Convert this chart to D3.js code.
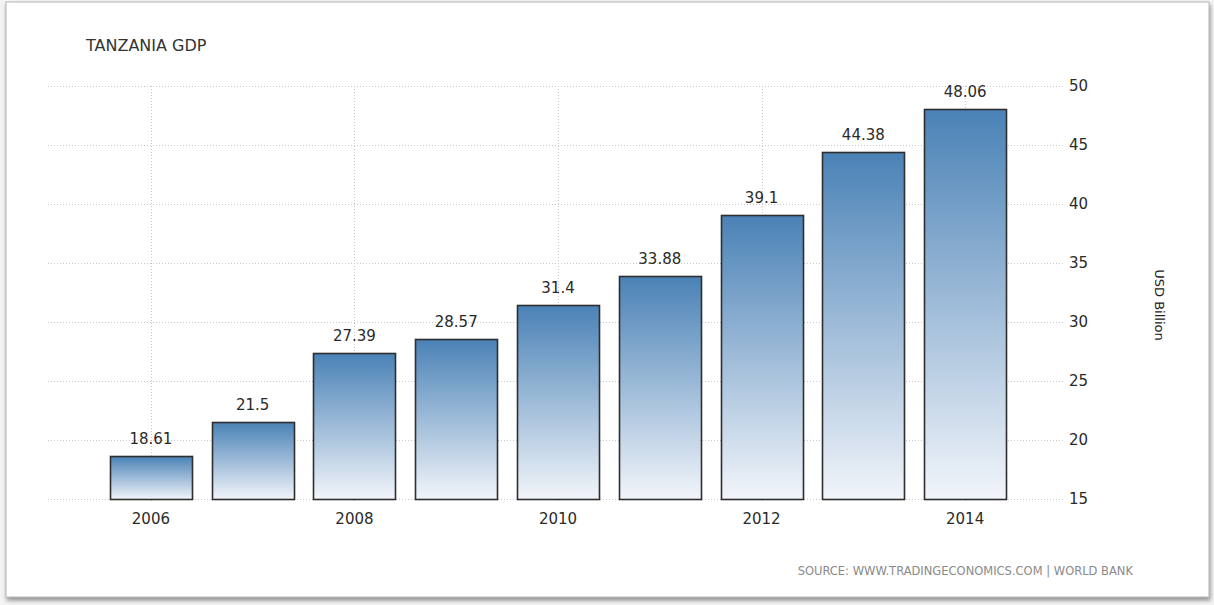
<!DOCTYPE html>
<html>
<head>
<meta charset="utf-8">
<script src="https://cdn.jsdelivr.net/npm/d3@7"></script>
<style>
  html, body { margin: 0; padding: 0; background: #fff; }
  svg { display: block; }
  text { font-family: "DejaVu Sans", Verdana, sans-serif; }
</style>
</head>
<body>
<svg id="chart" width="1214" height="605"></svg>
<script>
// Tanzania GDP, USD billion
const years = ["2006", "2007", "2008", "2009", "2010", "2011", "2012", "2013", "2014"];
const gdp = [18.61, 21.5, 27.39, 28.57, 31.4, 33.88, 39.1, 44.38, 48.06];
const gdpLabels = ["18.61", "21.5", "27.39", "28.57", "31.4", "33.88", "39.1", "44.38", "48.06"];
const yTicks = [15, 20, 25, 30, 35, 40, 45, 50];
const xTickYears = ["2006", "2008", "2010", "2012", "2014"];

const svg = d3.select("#chart");
const W = 1214, H = 605;

// card frame with soft shadow
const defs = svg.append("defs");
const shadow = defs.append("filter").attr("id", "cardShadow")
  .attr("x", "-2%").attr("y", "-2%").attr("width", "104%").attr("height", "106%");
shadow.append("feDropShadow").attr("dx", 1).attr("dy", 3)
  .attr("stdDeviation", 2).attr("flood-color", "#777").attr("flood-opacity", 0.8);

svg.append("rect").attr("width", W).attr("height", H).attr("fill", "#f4f4f4");
svg.append("rect")
  .attr("x", 6).attr("y", 2).attr("width", 1203).attr("height", 595)
  .attr("fill", "#fff").attr("stroke", "#b8b8b8").attr("stroke-width", 1)
  .attr("filter", "url(#cardShadow)");

// bar gradient
const grad = defs.append("linearGradient").attr("id", "barFill")
  .attr("x1", 0).attr("y1", 0).attr("x2", 0).attr("y2", 1);
grad.append("stop").attr("offset", "0%").attr("stop-color", "#4a82b6");
grad.append("stop").attr("offset", "100%").attr("stop-color", "#f2f5fa");

const plot = { left: 48, right: 1063, top: 86, bottom: 499 };

const pad = 0.194;
const x = d3.scaleBand().domain(years).range([100, 1016])
  .paddingInner(pad).paddingOuter(pad / 2);
const y = d3.scaleLinear().domain([15, 50]).range([plot.bottom, plot.top]);

// horizontal grid
svg.append("g").selectAll("line").data(yTicks).join("line")
  .attr("x1", plot.left).attr("x2", plot.right)
  .attr("y1", d => y(d) + 0.5).attr("y2", d => y(d) + 0.5)
  .attr("stroke", "#c8c8c8").attr("stroke-width", 1).attr("stroke-dasharray", "1,2");

// vertical grid at labelled years
svg.append("g").selectAll("line").data(xTickYears).join("line")
  .attr("x1", d => Math.round(x(d) + x.bandwidth() / 2) + 0.5)
  .attr("x2", d => Math.round(x(d) + x.bandwidth() / 2) + 0.5)
  .attr("y1", plot.top).attr("y2", plot.bottom + 4)
  .attr("stroke", "#c8c8c8").attr("stroke-width", 1).attr("stroke-dasharray", "1,2");

// bars
svg.append("g").selectAll("rect").data(gdp).join("rect")
  .attr("x", (d, i) => Math.round(x(years[i])) + 0.5)
  .attr("y", d => Math.round(y(d)) + 0.5)
  .attr("width", Math.round(x.bandwidth()))
  .attr("height", d => Math.round(y(15)) - Math.round(y(d)))
  .attr("fill", "url(#barFill)")
  .attr("stroke", "#2e2e2e").attr("stroke-width", 1.6);

// value labels
svg.append("g").selectAll("text").data(gdp).join("text")
  .attr("x", (d, i) => x(years[i]) + x.bandwidth() / 2)
  .attr("y", d => y(d) - 12)
  .attr("text-anchor", "middle")
  .attr("font-size", 15).attr("fill", "#2a2a2a")
  .text((d, i) => gdpLabels[i]);

// x axis labels
const xAxis = d3.axisBottom(x).tickValues(xTickYears).tickSize(0).tickPadding(14);
const gx = svg.append("g").attr("transform", `translate(0,${plot.bottom})`).call(xAxis);
gx.select(".domain").remove();
gx.selectAll("text").attr("font-size", 15).attr("fill", "#2a2a2a")
  .attr("font-family", "DejaVu Sans, Verdana, sans-serif");

// y axis labels on the right
const yAxis = d3.axisRight(y).tickValues(yTicks).tickSize(0).tickPadding(6);
const gy = svg.append("g").attr("transform", `translate(${plot.right},0)`).call(yAxis);
gy.select(".domain").remove();
gy.selectAll("text").attr("font-size", 15).attr("fill", "#2a2a2a")
  .attr("font-family", "DejaVu Sans, Verdana, sans-serif");

// unit label
svg.append("text")
  .attr("transform", "translate(1155,305) rotate(90)")
  .attr("text-anchor", "middle")
  .attr("font-size", 13).attr("fill", "#222")
  .text("USD Billion");

// title
svg.append("text")
  .attr("x", 86).attr("y", 51)
  .attr("font-size", 16).attr("fill", "#333")
  .text("TANZANIA GDP");

// source
svg.append("text")
  .attr("x", 1133).attr("y", 575)
  .attr("text-anchor", "end")
  .attr("font-size", 11.5).attr("fill", "#8a8a8a")
  .text("SOURCE: WWW.TRADINGECONOMICS.COM | WORLD BANK");
</script>
</body>
</html>
